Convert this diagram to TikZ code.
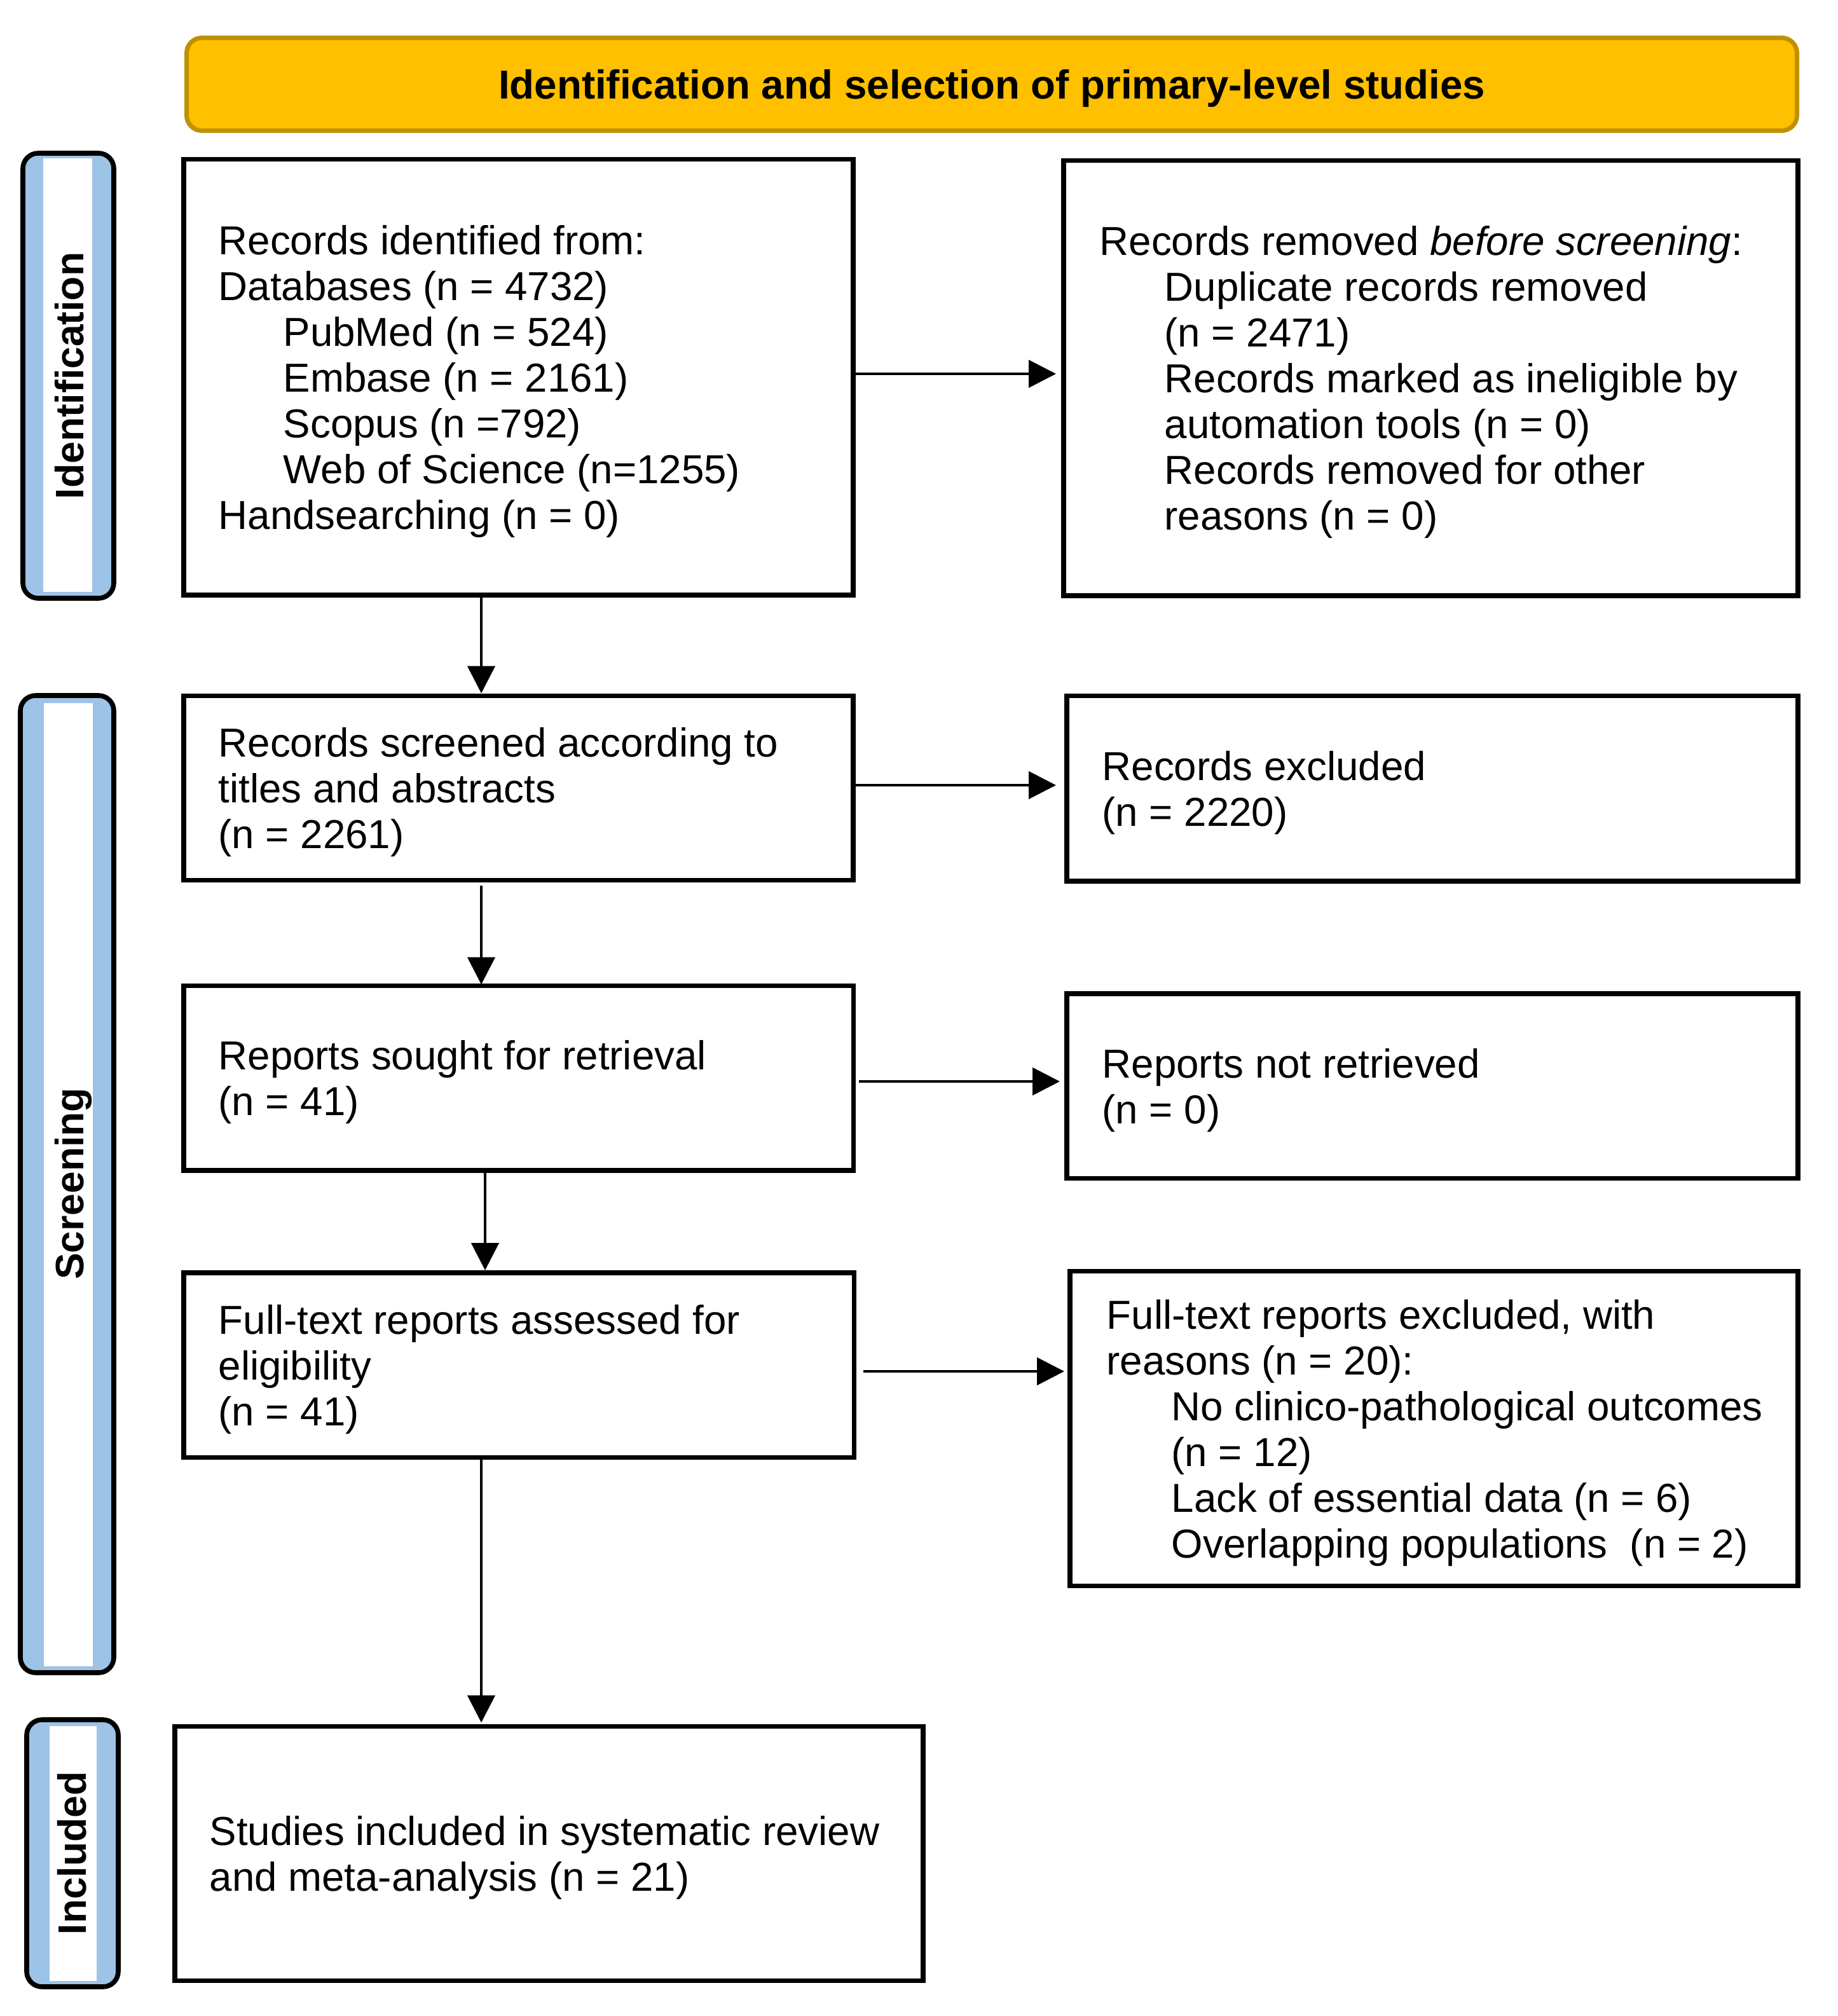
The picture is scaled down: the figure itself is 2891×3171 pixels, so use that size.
\documentclass[tikz,border=0pt]{standalone}
\usepackage{fontspec}
\setmainfont{Liberation Sans}
\usetikzlibrary{arrows.meta}
\definecolor{hdrfill}{HTML}{FFC000}
\definecolor{hdrborder}{HTML}{BF9000}
\definecolor{barblue}{HTML}{9DC3E6}
\newcommand{\ind}{\hspace*{25.5pt}}
\begin{document}
\begin{tikzpicture}[x=0.25pt,y=-0.25pt,
  boxs/.style={draw=black, line width=1.83pt, anchor=north west, inner sep=0pt, outer sep=0pt},
  txt/.style={anchor=west, inner sep=0pt, align=left, font=\fontsize{15.9}{18}\selectfont, yshift=-1.65pt},
  bar/.style={draw=black, line width=1.9pt, fill=barblue, rounded corners=6pt, anchor=north west, inner sep=0pt, outer sep=0pt},
  sidelabel/.style={rotate=90, anchor=base, inner sep=0pt, font=\fontsize{15.6}{18}\selectfont\bfseries},
  arr/.style={-{Triangle[length=10.75pt,width=10.75pt]}, line width=1.2pt},
]
\useasboundingbox (0,0) rectangle (2891,3171);

% header
\node[draw=hdrborder, line width=1.75pt, fill=hdrfill, rounded corners=6pt,
      minimum width=633.25pt, minimum height=36.5pt, anchor=north west,
      inner sep=0pt, outer sep=0pt] (hdr) at (293.5,59.5) {};
\node[anchor=base, inner sep=0pt, font=\fontsize{15.9}{18}\selectfont\bfseries] (hdrtext) at (1560,155)
  {Identification and selection of primary-level studies};

% side bars
\node[bar, minimum width=35.75pt, minimum height=175pt] (barI) at (36,241) {};
\fill[white] (68,249) rectangle (145,931);
\node[sidelabel] (labI) at (131,591) {Identification};

\node[bar, minimum width=36.75pt, minimum height=384.25pt] (barS) at (32,1094) {};
\fill[white] (69,1106) rectangle (146,2621);
\node[sidelabel] (labS) at (131,1862) {Screening};

\node[bar, minimum width=36pt, minimum height=105pt] (barN) at (42,2705) {};
\fill[white] (78,2715) rectangle (152,3116);
\node[sidelabel] (labN) at (136,2915) {Included};

% boxes
\node[boxs, minimum width=263.25pt, minimum height=171.375pt] (b1) at (289,250.5) {};
\node[boxs, minimum width=288.75pt, minimum height=171.125pt] (b2) at (1673,252.5) {};
\node[boxs, minimum width=263.25pt, minimum height=72.5pt] (b3) at (289,1094.5) {};
\node[boxs, minimum width=287.5pt, minimum height=72.875pt] (b4) at (1678,1094.5) {};
\node[boxs, minimum width=263.375pt, minimum height=72.625pt] (b5) at (289,1550.5) {};
\node[boxs, minimum width=287.5pt, minimum height=72.625pt] (b6) at (1678,1563) {};
\node[boxs, minimum width=263.625pt, minimum height=72.625pt] (b7) at (289,2002) {};
\node[boxs, minimum width=286.25pt, minimum height=123.75pt] (b8) at (1683,1999.5) {};
\node[boxs, minimum width=294.25pt, minimum height=100pt] (b9) at (275,2715.5) {};

% texts
\node[txt, xshift=13.5pt] (t1) at (b1.west) {Records identified from:\\
Databases (n = 4732)\\
\ind PubMed (n = 524)\\
\ind Embase (n = 2161)\\
\ind Scopus (n =792)\\
\ind Web of Science (n=1255)\\
Handsearching (n = 0)};
\node[txt, xshift=14pt] (t2) at (b2.west) {Records removed \textit{before screening}:\\
\ind Duplicate records removed\\
\ind (n = 2471)\\
\ind Records marked as ineligible by\\
\ind automation tools (n = 0)\\
\ind Records removed for other\\
\ind reasons (n = 0)};
\node[txt, xshift=13.5pt] (t3) at (b3.west) {Records screened according to\\
titles and abstracts\\
(n = 2261)};
\node[txt, xshift=13.75pt] (t4) at (b4.west) {Records excluded\\
(n = 2220)};
\node[txt, xshift=13.5pt] (t5) at (b5.west) {Reports sought for retrieval\\
(n = 41)};
\node[txt, xshift=13.75pt] (t6) at (b6.west) {Reports not retrieved\\
(n = 0)};
\node[txt, xshift=13.5pt] (t7) at (b7.west) {Full-text reports assessed for\\
eligibility\\
(n = 41)};
\node[txt, xshift=14.25pt] (t8) at (b8.west) {Full-text reports excluded, with\\
reasons (n = 20):\\
\ind No clinico-pathological outcomes\\
\ind (n = 12)\\
\ind Lack of essential data (n = 6)\\
\ind Overlapping populations\ \ (n = 2)};
\node[txt, xshift=13.5pt] (t9) at (b9.west) {Studies included in systematic review\\
and meta-analysis (n = 21)};

% helper coordinates
\coordinate (ya) at (0,588);
\coordinate (yb) at (0,1235);
\coordinate (yc) at (0,1701);
\coordinate (yd) at (0,2157);
\coordinate (xa) at (757,0);
\coordinate (xb) at (763,0);

% horizontal arrows
\draw[arr, shorten >=3pt] (b1.east |- ya) -- (b2.west |- ya);
\draw[arr, shorten >=4.25pt] (b3.east |- yb) -- (b4.west |- yb);
\draw[arr, shorten <=2.1pt, shorten >=2.75pt] (b5.east |- yc) -- (b6.west |- yc);
\draw[arr, shorten <=3.6pt, shorten >=2.25pt] (b7.east |- yd) -- (b8.west |- yd);

% vertical arrows
\draw[arr, shorten >=1pt] (b1.south -| xa) -- (b3.north -| xa);
\draw[arr, shorten <=2pt, shorten >=0.5pt] (b3.south -| xa) -- (b5.north -| xa);
\draw[arr, shorten <=1pt, shorten >=1pt] (b5.south -| xb) -- (b7.north -| xb);
\draw[arr, shorten >=1.5pt] (b7.south -| xa) -- (b9.north -| xa);
\end{tikzpicture}
\end{document}
